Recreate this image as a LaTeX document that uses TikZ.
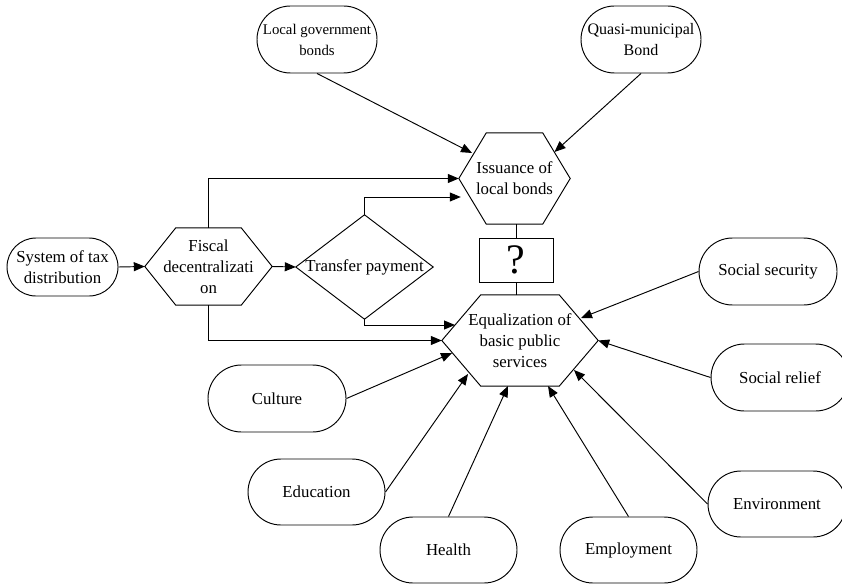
\documentclass[tikz,border=0pt]{standalone}
\usepackage{fontspec}
\setmainfont{Liberation Serif}
\usetikzlibrary{arrows.meta,shapes.misc,calc}
\newcommand\hexdraw[2]{\draw[ln] (#1.west) -- ($(#1.north west)+(#2,0)$) -- ($(#1.north east)+(-#2,0)$) -- (#1.east) -- ($(#1.south east)+(-#2,0)$) -- ($(#1.south west)+(#2,0)$) -- cycle;}
\begin{document}
\begin{tikzpicture}[x=1pt,y=-1pt,
  every node/.style={font=\fontsize{16.8}{21}\selectfont, align=center, inner sep=0pt},
  ln/.style={line width=0.95pt},
  stadium/.style={rounded rectangle, draw, ln, minimum width=138pt, minimum height=67pt},
  frame/.style={draw=none},
  arr/.style={ln, -{Triangle[length=11pt,width=9pt]}}]
\clip (0,0) rectangle (842,585);
% top stadiums
\node[stadium, minimum width=120pt, font=\fontsize{14.8}{21}\selectfont] (lgb) at (317,39.5) {Local government\\bonds};
\node[stadium, minimum width=120pt, font=\fontsize{16}{21}\selectfont] (qmb) at (641,39.5) {Quasi-municipal\\Bond};
% left chain
\node[stadium, minimum width=111pt, minimum height=58pt] (sys) at (62.5,267) {System of tax\\distribution};
\node[frame, minimum width=127pt, minimum height=77pt] (fd) at (208.5,266.5) {Fiscal\\decentralizati\\on};
\hexdraw{fd}{31}
\node[frame, minimum width=137pt, minimum height=104pt] (tp) at (364.5,267) {Transfer payment};
\draw[ln] (tp.west) -- (tp.north) -- (tp.east) -- (tp.south) -- cycle;
% central
\node[frame, minimum width=111pt, minimum height=91pt] (iss) at (514.5,178.5) {Issuance of\\local bonds};
\hexdraw{iss}{27.5}
\node[draw, ln, minimum width=74pt, minimum height=44pt, font=\fontsize{42}{42}\selectfont] (q) at (516,260) {?};
\node[frame, minimum width=156pt, minimum height=91pt] (eq) at (520,340.5) {Equalization of\\basic public\\services};
\hexdraw{eq}{39}
% outer stadiums
\node[stadium] (cul) at (277,398.5) {Culture};
\node[stadium, minimum width=137pt, minimum height=66pt] (edu) at (316.5,492) {Education};
\node[stadium, minimum width=137pt, minimum height=66pt] (hea) at (448.5,550) {Health};
\node[stadium, minimum width=137pt, minimum height=66pt] (emp) at (628.5,550) {Employment};
\node[stadium] (ss) at (768,271.5) {Social security};
\node[stadium] (sr) at (780,377.5) {Social relief};
\node[stadium, minimum height=66pt] (env) at (777,504) {Environment};
% coordinates on hexagon edges
\coordinate (issB) at ($(iss.west)+(2,18.5)$);
\coordinate (issLG) at ($(iss.center)+(-42.5,-25.5)$);
\coordinate (issQ) at ($(iss.center)+(40,-26.5)$);
\coordinate (eqT) at ($(eq.center)+(-65,-15.5)$);
\coordinate (eqCul) at ($(eq.center)+(-68,12.5)$);
\coordinate (eqEdu) at ($(eq.center)+(-52,33.5)$);
\coordinate (eqHea) at ($(eq.center)+(-12,45.5)$);
\coordinate (eqEmp) at ($(eq.center)+(28,45.5)$);
\coordinate (eqEnv) at ($(eq.center)+(54,29.5)$);
\coordinate (eqSS) at ($(eq.center)+(61,-22.5)$);
% connectors
\draw[arr] (sys.east) -- (fd.west);
\draw[arr] (fd.east) -- (tp.west);
\draw[arr] (fd.north) |- (iss.west);
\draw[arr] (tp.north) |- (issB);
\draw[arr] (lgb.south) -- (issLG);
\draw[arr] (qmb.south) -- (issQ);
\draw[ln] (q.north) -- (q.north |- iss.south);
\draw[ln] (q.south) -- (q.south |- eq.north);
\draw[arr] (tp.south) |- (eqT);
\draw[arr] (fd.south) |- (eq.west);
\draw[arr] (cul.east) -- (eqCul);
\draw[arr] (edu.east) -- (eqEdu);
\draw[arr] (hea.north) -- (eqHea);
\draw[arr] (emp.north) -- (eqEmp);
\draw[arr] (env.west) -- (eqEnv);
\draw[arr] (sr.west) -- (eq.east);
\draw[arr] (ss.west) -- (eqSS);
\end{tikzpicture}
\end{document}
